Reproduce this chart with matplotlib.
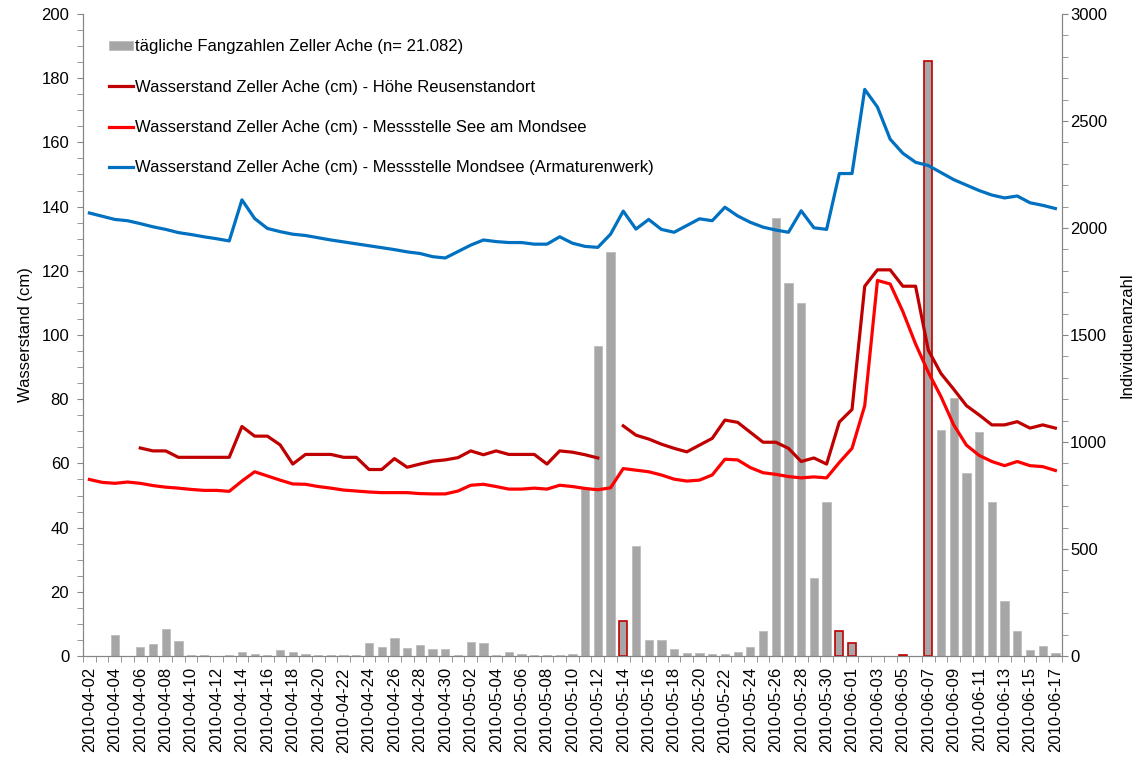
import numpy as np
import pandas as pd
import matplotlib
matplotlib.use('Agg')
import matplotlib.pyplot as plt
from matplotlib.ticker import MultipleLocator

plt.rcParams['font.family'] = ['Liberation Sans', 'DejaVu Sans']

# daily categories 2010-04-02 .. 2010-06-17
dates = pd.date_range('2010-04-02', '2010-06-17', freq='D')
date_labels = list(dates.strftime('%Y-%m-%d'))

# daily catch (Individuen)
fang = [0, 0, 100, 0, 42, 58, 128, 69, 7, 7,
        0, 7, 17, 11, 7, 27, 17, 11, 7, 7,
        7, 7, 63, 42, 83, 37, 51, 33, 33, 7,
        67, 63, 7, 17, 11, 7, 7, 7, 11, 780,
        1450, 1890, 165, 514, 75, 75, 34, 13, 13, 10,
        10, 19, 41, 118, 2045, 1741, 1648, 363, 721, 118,
        62, 0, 0, 0, 4, 0, 2780, 1057, 1206, 854,
        1045, 718, 259, 119, 27, 47, 13]

# bars with red outline
marked_days = ['2010-05-14', '2010-05-31', '2010-06-01', '2010-06-05', '2010-06-07']

# water levels (cm)
nan = np.nan
reuse = [nan, nan, nan, nan, 64.8, 63.9, 63.9, 61.9, 61.9, 61.9,
         61.9, 61.9, 71.5, 68.5, 68.5, 65.8, 59.8, 62.8, 62.8, 62.8,
         61.9, 61.9, 58.1, 58.1, 61.5, 58.8, 59.8, 60.7, 61.1, 61.8,
         63.9, 62.7, 63.9, 62.8, 62.8, 62.8, 59.8, 63.9, 63.5, 62.7,
         61.7, nan, 71.7, 68.8, 67.6, 66.0, 64.7, 63.6, 65.7, 67.8,
         73.5, 72.8, 69.7, 66.6, 66.6, 64.7, 60.6, 61.7, 59.8, 72.9,
         76.8, 115.2, 120.3, 120.3, 115.2, 115.2, 95.3, 88.0, 83.1, 78.0,
         75.1, 72.0, 72.0, 73.0, 71.0, 72.0, 71.0]

see = [55.0, 54.1, 53.8, 54.2, 53.8, 53.1, 52.6, 52.3, 51.9, 51.6,
       51.6, 51.3, 54.5, 57.4, 56.1, 54.8, 53.6, 53.5, 52.8, 52.3,
       51.7, 51.4, 51.1, 50.9, 50.9, 50.9, 50.6, 50.5, 50.5, 51.4,
       53.2, 53.5, 52.8, 52.0, 52.0, 52.3, 52.0, 53.2, 52.8, 52.2,
       51.8, 52.4, 58.4, 57.9, 57.4, 56.4, 55.1, 54.5, 54.8, 56.4,
       61.3, 61.1, 58.7, 57.1, 56.6, 55.9, 55.5, 55.8, 55.5, 60.3,
       64.7, 78.0, 117.0, 115.9, 107.3, 97.2, 88.4, 80.8, 72.0, 65.7,
       62.5, 60.6, 59.3, 60.6, 59.3, 59.0, 57.8]

mondsee = [138.0, 137.0, 136.0, 135.6, 134.7, 133.7, 132.9, 131.9, 131.3, 130.6,
           130.0, 129.3, 142.1, 136.3, 133.2, 132.2, 131.4, 131.0, 130.3, 129.6,
           129.0, 128.4, 127.8, 127.2, 126.6, 125.9, 125.4, 124.4, 124.0, 126.0,
           128.0, 129.6, 129.1, 128.8, 128.8, 128.3, 128.3, 130.6, 128.6, 127.6,
           127.3, 131.4, 138.6, 133.0, 136.0, 132.9, 132.0, 134.1, 136.2, 135.6,
           139.8, 137.1, 135.1, 133.6, 132.7, 132.0, 138.7, 133.4, 132.9, 150.3,
           150.3, 176.5, 171.0, 161.0, 156.6, 153.8, 152.8, 150.6, 148.4, 146.7,
           145.0, 143.6, 142.7, 143.3, 141.2, 140.4, 139.4]

x = np.arange(len(dates))
axis_grey = '#868686'
fs = 12

fig = plt.figure(figsize=(11.44, 7.6), dpi=100)
ax = fig.add_axes([0.0726, 0.1368, 0.8555, 0.8448])
ax2 = ax.twinx()
# lines above the bars
ax.set_zorder(ax2.get_zorder() + 1)
ax.patch.set_visible(False)

edges = ['#C00000' if d in marked_days else '#BDBDBD' for d in date_labels]
widths = [1.2 if d in marked_days else 0.6 for d in date_labels]
bars = ax2.bar(x, fang, width=0.65, color='#A6A6A6', edgecolor=edges, linewidth=widths,
               label='tägliche Fangzahlen Zeller Ache (n= 21.082)')

l1, = ax.plot(x, reuse, color='#C00000', lw=2.3,
              label='Wasserstand Zeller Ache (cm) - Höhe Reusenstandort')
l2, = ax.plot(x, see, color='#FF0000', lw=2.3,
              label='Wasserstand Zeller Ache (cm) - Messstelle See am Mondsee')
l3, = ax.plot(x, mondsee, color='#0070C0', lw=2.3,
              label='Wasserstand Zeller Ache (cm) - Messstelle Mondsee (Armaturenwerk)')

ax.set_xlim(-0.5, len(x) - 0.5)
ax.set_ylim(0, 200)
ax2.set_ylim(0, 3000)

ax.yaxis.set_major_locator(MultipleLocator(20))
ax.yaxis.set_minor_locator(MultipleLocator(5))
ax2.yaxis.set_major_locator(MultipleLocator(500))
ax2.yaxis.set_minor_locator(MultipleLocator(100))

# date labels every second day, tick marks between categories
ax.set_xticks(x[::2])
ax.set_xticklabels(date_labels[::2], rotation=90, fontsize=fs)
ax.set_xticks(np.arange(-0.5, len(x), 1), minor=True)
ax.tick_params(axis='x', which='major', length=0, pad=8)
ax.tick_params(axis='x', which='minor', length=4, color=axis_grey)

ax.tick_params(axis='y', which='both', length=4, color=axis_grey, labelsize=fs, pad=6)
ax2.tick_params(axis='y', which='both', length=4, color=axis_grey, labelsize=fs, pad=2)

for a in (ax, ax2):
    a.spines['top'].set_visible(False)
    for s in ('left', 'right', 'bottom'):
        a.spines[s].set_color(axis_grey)

ax.set_ylabel('Wasserstand (cm)', fontsize=fs, labelpad=6)
ax2.set_ylabel('Individuenanzahl', fontsize=fs, labelpad=9)

ax.legend([bars, l1, l2, l3], [bars.get_label(), l1.get_label(), l2.get_label(), l3.get_label()],
          loc='upper left', bbox_to_anchor=(0.011, 0.984), frameon=False, fontsize=fs,
          labelspacing=1.52, handlelength=1.45, handleheight=0.45, handletextpad=0.12)

plt.savefig('out.png', dpi=100)
